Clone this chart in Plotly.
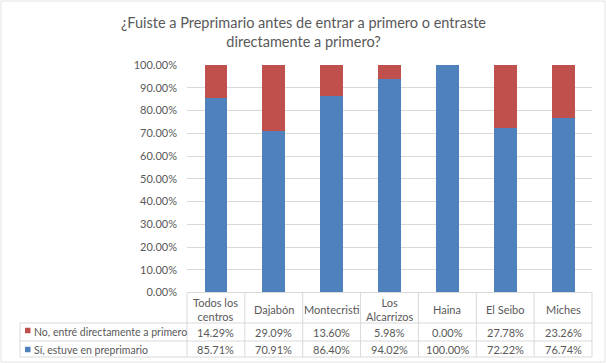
import plotly.graph_objects as go

categories = ["Todos los centros", "Dajabón", "Montecristi", "Los Alcarrizos", "Haina", "El Seibo", "Miches"]
header_labels = ["Todos los<br>centros", "Dajabón", "Montecristi", "Los<br>Alcarrizos", "Haina", "El Seibo", "Miches"]
no_values = [14.29, 29.09, 13.60, 5.98, 0.00, 27.78, 23.26]
si_values = [85.71, 70.91, 86.40, 94.02, 100.00, 72.22, 76.74]
series_names = ["No, entré directamente a primero", "Sí, estuve en preprimario"]
title_text = "¿Fuiste a Preprimario antes de entrar a primero o entraste<br>directamente a primero?"

W, H = 606, 363
BLUE = "#4f81bd"
RED = "#c0504d"
GRID = "#d9d9d9"
TXT = "#595959"
FONT = "Lato"

def px(x):
    return x / W

def py(y):
    return 1 - y / H

X0, X1 = 187, 592
Y_TOP, Y_BOT = 65, 292.5
n = len(categories)
cw = (X1 - X0) / n

fig = go.Figure()
fig.add_trace(go.Bar(x=categories, y=[v / 100 for v in si_values], name=series_names[1],
                     marker=dict(color=BLUE, line=dict(width=0)), width=0.395))
fig.add_trace(go.Bar(x=categories, y=[v / 100 for v in no_values], name=series_names[0],
                     marker=dict(color=RED, line=dict(width=0)), width=0.395))

shapes = []
line = dict(color=GRID, width=1)
# outer chart border
shapes.append(dict(type="rect", xref="paper", yref="paper", x0=px(1), x1=px(605), y0=py(362), y1=py(1),
                   line=dict(color="#e3e3e3", width=1)))
# table horizontal lines
shapes.append(dict(type="line", xref="paper", yref="paper", x0=px(X0), x1=px(X1), y0=py(Y_BOT), y1=py(Y_BOT), line=line))
for yy in [323, 341, 357]:
    shapes.append(dict(type="line", xref="paper", yref="paper", x0=px(20), x1=px(X1), y0=py(yy), y1=py(yy), line=line))
# table vertical lines
for k in range(n + 1):
    xx = X0 + k * cw
    shapes.append(dict(type="line", xref="paper", yref="paper", x0=px(xx), x1=px(xx), y0=py(Y_BOT), y1=py(357), line=line))
shapes.append(dict(type="line", xref="paper", yref="paper", x0=px(20), x1=px(20), y0=py(323), y1=py(357), line=line))
# legend keys
for yc, col in [(330.5, RED), (349.5, BLUE)]:
    shapes.append(dict(type="rect", xref="paper", yref="paper", x0=px(25), x1=px(30.5), y0=py(yc + 2.75), y1=py(yc - 2.75),
                       fillcolor=col, line=dict(width=0)))

annotations = []
annotations.append(dict(text=title_text, x=0.5, y=py(32), xref="paper", yref="paper", showarrow=False,
                        xanchor="center", yanchor="middle", font=dict(family=FONT, size=14.5, color=TXT)))
for k in range(n):
    xc = X0 + (k + 0.5) * cw
    annotations.append(dict(text=header_labels[k], x=px(xc), y=py(309), xref="paper", yref="paper", showarrow=False,
                            xanchor="center", yanchor="middle", font=dict(family=FONT, size=11, color=TXT)))
    annotations.append(dict(text=f"{no_values[k]:.2f}%", x=px(xc), y=py(332), xref="paper", yref="paper", showarrow=False,
                            xanchor="center", yanchor="middle", font=dict(family=FONT, size=11, color=TXT)))
    annotations.append(dict(text=f"{si_values[k]:.2f}%", x=px(xc), y=py(349.5), xref="paper", yref="paper", showarrow=False,
                            xanchor="center", yanchor="middle", font=dict(family=FONT, size=11, color=TXT)))
annotations.append(dict(text=series_names[0], x=px(32), y=py(332), xref="paper", yref="paper", showarrow=False,
                        xanchor="left", yanchor="middle", font=dict(family=FONT, size=10.5, color=TXT)))
annotations.append(dict(text=series_names[1], x=px(32), y=py(349.5), xref="paper", yref="paper", showarrow=False,
                        xanchor="left", yanchor="middle", font=dict(family=FONT, size=10.5, color=TXT)))

fig.update_layout(
    width=W, height=H, autosize=False,
    margin=dict(l=0, r=0, t=0, b=0, pad=0, autoexpand=False),
    paper_bgcolor="white", plot_bgcolor="white",
    barmode="stack", showlegend=False,
    font=dict(family=FONT, color=TXT),
    xaxis=dict(domain=[px(X0), px(X1)], showticklabels=False, showgrid=False, zeroline=False,
               showline=False, ticks="", range=[-0.5, n - 0.5], automargin=False),
    yaxis=dict(domain=[py(Y_BOT), py(Y_TOP)], range=[0, 1], dtick=0.1, tickformat=".2%",
               showgrid=True, gridcolor=GRID, gridwidth=1, zeroline=False, showline=False, automargin=False,
               ticks="", ticklabelstandoff=9, tickfont=dict(family=FONT, size=11, color=TXT)),
    shapes=shapes, annotations=annotations,
)

fig.write_html("out.html", config={"displayModeBar": False},
               post_script="document.body.style.margin='0';document.body.style.overflow='hidden';")
